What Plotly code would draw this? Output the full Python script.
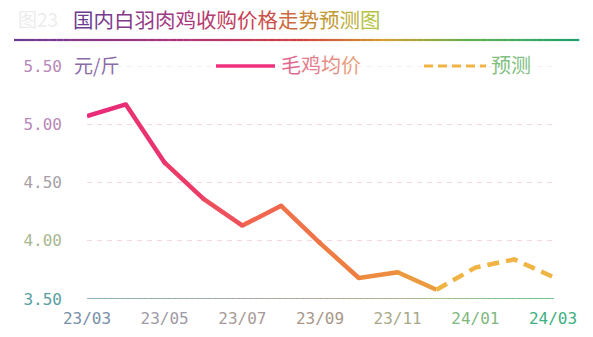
import plotly.graph_objects as go

# ---------------- data ----------------
months = ["23/03", "23/04", "23/05", "23/06", "23/07", "23/08", "23/09",
          "23/10", "23/11", "23/12", "24/01", "24/02", "24/03"]
actual = [5.07, 5.17, 4.67, 4.36, 4.13, 4.30, 3.98, 3.68, 3.73, 3.58]
forecast = [3.58, 3.77, 3.84, 3.69]          # starts at last actual month
x_tick_labels = ["23/03", "23/05", "23/07", "23/09", "23/11", "24/01", "24/03"]
y_ticks = [3.5, 4.0, 4.5, 5.0, 5.5]
title_text = "国内白羽肉鸡收购价格走势预测图"
unit_text = "元/斤"
legend_names = ["毛鸡均价", "预测"]

# ---------------- style ----------------
W, H = 593, 337
ML, MR, MT, MB = 87, 40, 66, 38
FONT = "Noto Sans CJK SC, sans-serif"
MONO = "DejaVu Sans Mono, monospace"

def hex2rgb(h):
    h = h.lstrip("#")
    return tuple(int(h[i:i + 2], 16) for i in (0, 2, 4))

def lerp_color(stops, t):
    for (t0, c0), (t1, c1) in zip(stops[:-1], stops[1:]):
        if t <= t1:
            f = 0 if t1 == t0 else (t - t0) / (t1 - t0)
            a, b = hex2rgb(c0), hex2rgb(c1)
            return "rgb(%d,%d,%d)" % tuple(round(a[i] + (b[i] - a[i]) * f) for i in range(3))
    return "rgb(%d,%d,%d)" % hex2rgb(stops[-1][1])

line_stops = [(0, "#e8287c"), (0.3, "#ec3c68"), (0.5, "#f0664e"),
              (0.75, "#ee8040"), (1.0, "#eaa23c")]
title_stops = [(0, "#6b3c91"), (0.35, "#a83a80"), (0.6, "#cc4050"),
               (0.8, "#c88a30"), (1.0, "#b4c23e")]
rule_stops = [(0, "#6a3a92"), (0.3, "#b03478"), (0.5, "#d04040"),
              (0.65, "#d4a030"), (0.8, "#60b050"), (1.0, "#1aa070")]
axis_stops = [(0, "#6a9ea0"), (0.5, "#a09080"), (0.75, "#90b070"), (1.0, "#40b070")]

pw = W - ML - MR
ph = H - MT - MB
def px_x(p):
    return (p - ML) / pw
def px_y(p):
    return 1 - (p - MT) / ph

fig = go.Figure()

# gradient solid line (segment by segment)
n = len(actual)
for i in range(n - 1):
    c = lerp_color(line_stops, (i + 0.5) / (n - 1))
    fig.add_trace(go.Scatter(
        x=[months[i], months[i + 1]], y=[actual[i], actual[i + 1]],
        mode="lines", line=dict(color=c, width=4.5), hoverinfo="skip",
        showlegend=False))
for i in range(1, n - 1):
    c = lerp_color(line_stops, i / (n - 1))
    fig.add_trace(go.Scatter(
        x=[months[i]], y=[actual[i]], mode="markers",
        marker=dict(color=c, size=4.5, line=dict(width=0)),
        hoverinfo="skip", showlegend=False))

# forecast dashed
fig.add_trace(go.Scatter(
    x=months[n - 1:], y=forecast, mode="lines",
    line=dict(color="#f0b444", width=4.5, dash="12px,7px"),
    showlegend=False, hoverinfo="skip"))

y_tick_colors = ["#5a9ea0", "#a8b890", "#a8a0a8", "#b888b8", "#b888b8"]
x_tick_colors = ["#7890a8", "#a09aa8", "#a89a98", "#a89888", "#a8a888", "#80b880", "#40b080"]

shapes = []
shapes.append(dict(type="line", xref="paper", yref="y", x0=0, x1=1, y0=5.5, y1=5.5,
                   line=dict(color="#f3d6e2", width=1, dash="5px,5px"), layer="below"))
N = 80
x0p, x1p, yr = 14, 579, 40
for k in range(N):
    a = x0p + (x1p - x0p) * k / N
    b = x0p + (x1p - x0p) * (k + 1) / N
    shapes.append(dict(type="line", xref="paper", yref="paper",
                       x0=px_x(a), x1=px_x(b) + 0.0005, y0=px_y(yr), y1=px_y(yr),
                       line=dict(color=lerp_color(rule_stops, k / N), width=2.2)))
for k in range(N):
    a = k / N
    b = (k + 1) / N
    shapes.append(dict(type="line", xref="paper", yref="y",
                       x0=a, x1=b + 0.002, y0=3.5, y1=3.5,
                       line=dict(color=lerp_color(axis_stops, a), width=1.5)))
shapes.append(dict(type="line", xref="paper", yref="paper",
                   x0=px_x(216), x1=px_x(275), y0=px_y(66), y1=px_y(66),
                   line=dict(color="#f0307e", width=3.5)))
shapes.append(dict(type="line", xref="paper", yref="paper",
                   x0=px_x(424), x1=px_x(486), y0=px_y(66), y1=px_y(66),
                   line=dict(color="#f0b444", width=3, dash="9px,5px")))

annotations = []
annotations.append(dict(text="图23", xref="paper", yref="paper",
                        x=px_x(16), y=px_y(18), xanchor="left", yanchor="middle",
                        showarrow=False, font=dict(family=FONT, size=19, color="#ececec")))
tchars = list(title_text)
tspans = "".join("<span style='color:%s'>%s</span>" % (lerp_color(title_stops, i / (len(tchars) - 1)), ch)
                 for i, ch in enumerate(tchars))
annotations.append(dict(text=tspans, xref="paper", yref="paper",
                        x=px_x(71), y=px_y(19), xanchor="left", yanchor="middle",
                        showarrow=False, font=dict(family=FONT, size=20.5)))
annotations.append(dict(text=unit_text, xref="paper", yref="paper",
                        x=px_x(72), y=px_y(65), xanchor="left", yanchor="middle",
                        showarrow=False, font=dict(family=FONT, size=19, color="#8a6aa8")))
lg1_stops = [(0, "#e06a90"), (1, "#e8a080")]
l1 = "".join("<span style='color:%s'>%s</span>" % (lerp_color(lg1_stops, i / 3), ch)
             for i, ch in enumerate(legend_names[0]))
annotations.append(dict(text=l1, xref="paper", yref="paper",
                        x=px_x(279), y=px_y(65), xanchor="left", yanchor="middle",
                        showarrow=False, font=dict(family=FONT, size=20)))
annotations.append(dict(text=legend_names[1], xref="paper", yref="paper",
                        x=px_x(489), y=px_y(65), xanchor="left", yanchor="middle",
                        showarrow=False, font=dict(family=FONT, size=20, color="#80c080")))

fig.update_layout(
    width=W, height=H,
    margin=dict(l=ML, r=MR, t=MT, b=MB, autoexpand=False),
    paper_bgcolor="white", plot_bgcolor="white",
    shapes=shapes, annotations=annotations,
    showlegend=False,
    xaxis=dict(type="category", categoryorder="array", categoryarray=months,
               range=[0, len(months) - 1], automargin=False,
               tickvals=x_tick_labels,
               ticktext=["<span style='color:%s'>%s</span>" % (c, t)
                         for c, t in zip(x_tick_colors, x_tick_labels)],
               tickfont=dict(family=MONO, size=16), ticks="", ticklen=0,
               ticklabelstandoff=8,
               showgrid=False, zeroline=False, showline=False),
    yaxis=dict(range=[3.5, 5.5], tickvals=y_ticks, automargin=False,
               ticktext=["<span style='color:%s'>%.2f</span>" % (c, v)
                         for c, v in zip(y_tick_colors, y_ticks)],
               tickfont=dict(family=MONO, size=16), ticks="",
               showgrid=True, gridcolor="#f3d6e2", griddash="5px,5px", gridwidth=1,
               zeroline=False, showline=False, ticklabelstandoff=24),
)

fig.write_html("out.html")
